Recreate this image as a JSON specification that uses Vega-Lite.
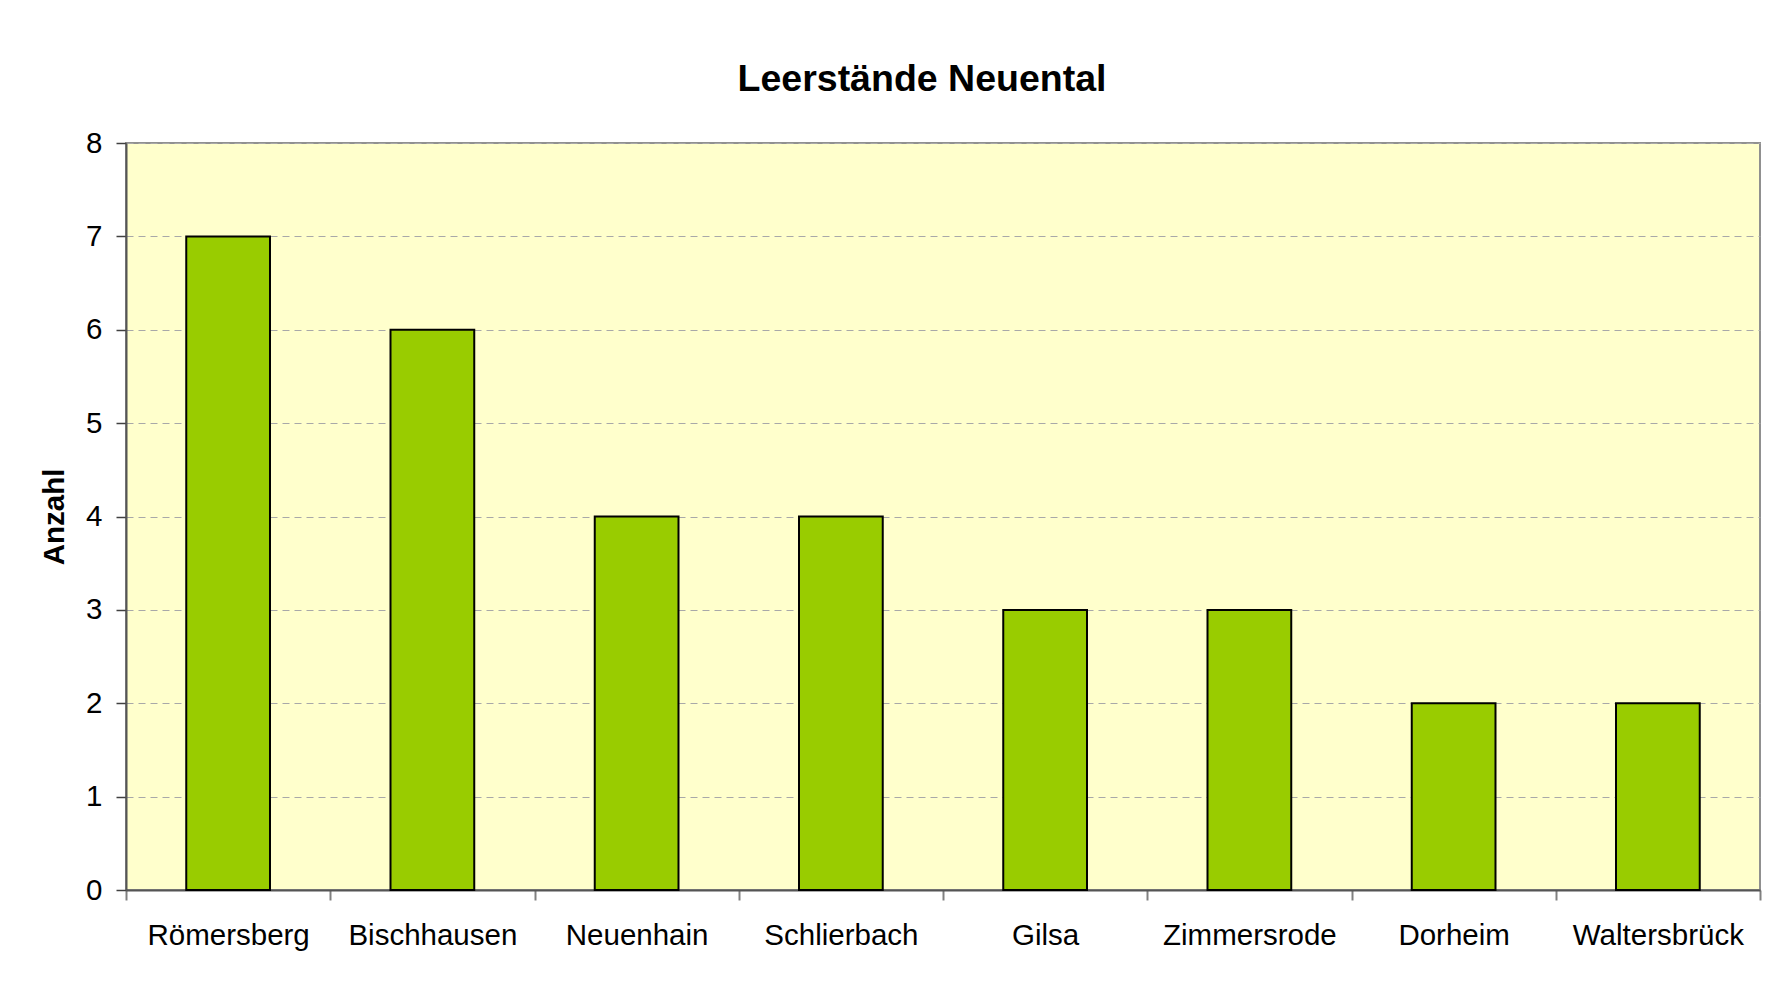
{
  "$schema": "https://vega.github.io/schema/vega-lite/v6.json",
  "autosize": {"type": "none"},
  "width": 1634,
  "height": 747,
  "padding": {"left": 126, "top": 143, "right": 27, "bottom": 91},
  "background": "white",
  "title": {
    "text": "Leerstände Neuental",
    "font": "Liberation Sans",
    "fontSize": 37.5,
    "fontWeight": "bold",
    "color": "black",
    "anchor": "middle",
    "dx": -21,
    "offset": 30
  },
  "data": {
    "values": [
      {"Ort": "Römersberg", "Anzahl": 7},
      {"Ort": "Bischhausen", "Anzahl": 6},
      {"Ort": "Neuenhain", "Anzahl": 4},
      {"Ort": "Schlierbach", "Anzahl": 4},
      {"Ort": "Gilsa", "Anzahl": 3},
      {"Ort": "Zimmersrode", "Anzahl": 3},
      {"Ort": "Dorheim", "Anzahl": 2},
      {"Ort": "Waltersbrück", "Anzahl": 2}
    ]
  },
  "mark": {"type": "bar", "color": "#99CC00", "stroke": "black", "strokeWidth": 2, "width": {"band": 0.41}},
  "encoding": {
    "x": {
      "field": "Ort",
      "type": "nominal",
      "sort": null,
      "title": null,
      "scale": {"paddingInner": 0, "paddingOuter": 0},
      "axis": {
        "labelAngle": 0,
        "labelFont": "Liberation Sans",
        "labelFontSize": 29.5,
        "labelColor": "black",
        "labelPadding": 21,
        "tickBand": "extent",
        "tickSize": 10,
        "tickColor": "#808080",
        "tickWidth": 2,
        "domainColor": "#555555",
        "domainWidth": 2,
        "grid": false
      }
    },
    "y": {
      "field": "Anzahl",
      "type": "quantitative",
      "scale": {"domain": [0, 8]},
      "axis": {
        "values": [0, 1, 2, 3, 4, 5, 6, 7, 8],
        "title": "Anzahl",
        "titleFont": "Liberation Sans",
        "titleFontSize": 29.5,
        "titleFontWeight": "bold",
        "titleColor": "black",
        "titleX": -63,
        "titleBaseline": "alphabetic",
        "labelFont": "Liberation Sans",
        "labelFontSize": 29.5,
        "labelColor": "black",
        "labelPadding": 14,
        "tickSize": 10,
        "tickColor": "#404040",
        "tickWidth": 1.5,
        "domainColor": "#555555",
        "domainWidth": 2,
        "grid": true,
        "gridColor": "#A8A8A8",
        "gridDash": [7, 5],
        "gridWidth": 1
      }
    }
  },
  "config": {
    "view": {"fill": "#FFFFCC", "stroke": "#909090", "strokeWidth": 2}
  }
}
